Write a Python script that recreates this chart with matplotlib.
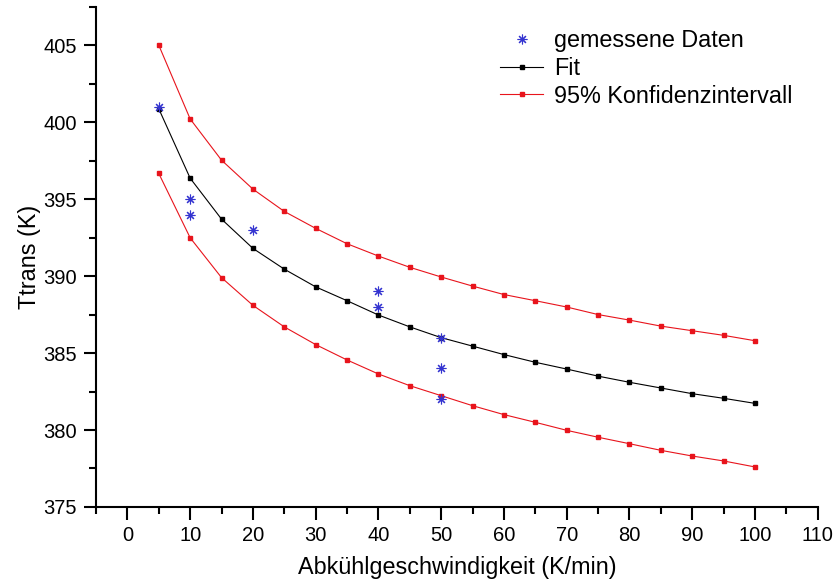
import matplotlib
matplotlib.use("Agg")
import matplotlib.pyplot as plt
from matplotlib.ticker import MultipleLocator

plt.rcParams['font.family'] = ['Liberation Sans', 'DejaVu Sans']

# Cooling rate grid for fit and confidence band
rate = [5, 10, 15, 20, 25, 30, 35, 40, 45, 50, 55, 60, 65, 70, 75, 80, 85, 90, 95, 100]
fit = [400.87, 396.36, 393.7, 391.8, 390.45, 389.3, 388.4, 387.47, 386.7, 386.0,
       385.45, 384.9, 384.4, 383.96, 383.5, 383.1, 382.73, 382.36, 382.06, 381.73]
upper = [405.0, 400.21, 397.53, 395.65, 394.2, 393.1, 392.1, 391.3, 390.57, 389.94,
         389.35, 388.8, 388.4, 387.99, 387.5, 387.14, 386.75, 386.45, 386.15, 385.8]
lower = [396.67, 392.49, 389.9, 388.1, 386.7, 385.55, 384.55, 383.64, 382.88, 382.23,
         381.58, 381.0, 380.5, 379.98, 379.53, 379.11, 378.68, 378.31, 377.99, 377.6]

# Measured transition temperatures
meas_rate = [5, 10, 10, 20, 40, 40, 50, 50, 50]
meas_T = [401, 395, 394, 393, 389, 388, 386, 384, 382]

fig = plt.figure(figsize=(8.37, 5.82), dpi=100)
ax = fig.add_axes([0.1147, 0.1289, 0.8623, 0.8596])

ax.plot(meas_rate, meas_T, linestyle='none', marker=(8, 2, 0), markersize=7,
        markeredgewidth=0.8, color='#3434d0', label='gemessene Daten', zorder=4)
ax.plot(rate, fit, color='black', linewidth=0.8, marker='s', markersize=3,
        label='Fit', zorder=3)
ax.plot(rate, upper, color='#e8141c', linewidth=0.8, marker='s', markersize=3.2,
        label='95% Konfidenzintervall', zorder=2)
ax.plot(rate, lower, color='#e8141c', linewidth=0.8, marker='s', markersize=3.2,
        zorder=2)

ax.set_xlim(-5, 110)
ax.set_ylim(375, 407.5)
ax.xaxis.set_major_locator(MultipleLocator(10))
ax.xaxis.set_minor_locator(MultipleLocator(5))
ax.yaxis.set_major_locator(MultipleLocator(5))
ax.yaxis.set_minor_locator(MultipleLocator(2.5))

for s in ('top', 'right'):
    ax.spines[s].set_visible(False)
for s in ('left', 'bottom'):
    ax.spines[s].set_linewidth(1.5)

ax.tick_params(which='major', direction='out', length=9, width=1.5,
               labelsize=14.5, pad=5)
ax.tick_params(which='minor', direction='out', length=5, width=1.5)

ax.set_xlabel('Abkühlgeschwindigkeit (K/min)', fontsize=16.8, labelpad=7.5)
ax.set_ylabel('Ttrans (K)', fontsize=16.8, labelpad=1.5)

ax.legend(loc='upper left', bbox_to_anchor=(0.56, 0.955), frameon=False,
          fontsize=16.8, handlelength=1.85, handletextpad=0.45, labelspacing=0.2,
          borderaxespad=0, borderpad=0)

fig.savefig('out.png', dpi=100)
